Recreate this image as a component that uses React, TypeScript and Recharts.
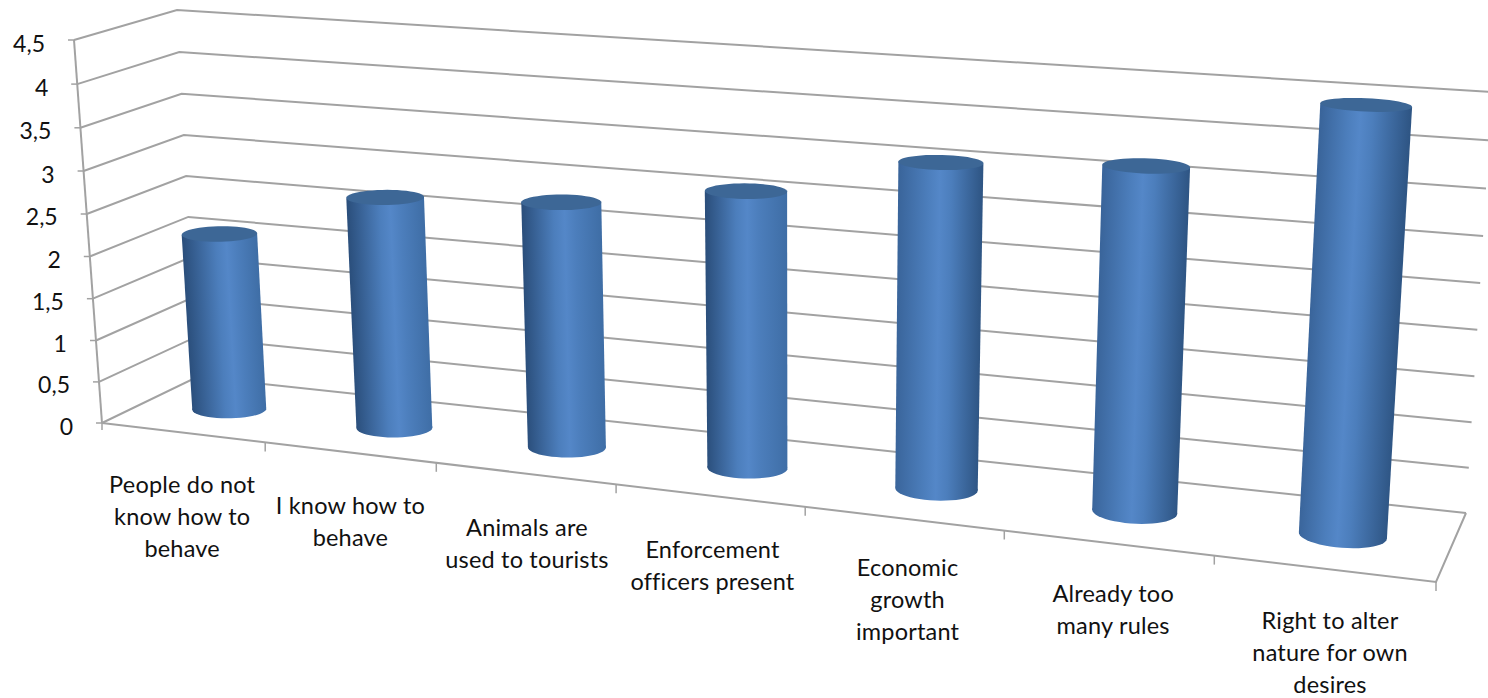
import React from "react";
import { BarChart, Bar, XAxis, YAxis, CartesianGrid } from "recharts";

const categories = [
  "People do not\nknow how to\nbehave",
  "I know how to\nbehave",
  "Animals are\nused to tourists",
  "Enforcement\nofficers present",
  "Economic\ngrowth\nimportant",
  "Already too\nmany rules",
  "Right to alter\nnature for own\ndesires",
];
const values = [2.12, 2.72, 2.83, 3.12, 3.59, 3.71, 4.48];
const valueTicks = [0, 0.5, 1, 1.5, 2, 2.5, 3, 3.5, 4, 4.5];

const data = categories.map((name, i) => ({ name, value: values[i] }));

const WIDTH = 1488;
const HEIGHT = 698;
// the axes each take one pixel, so the plot box starts at 100 / ends 100 from the bottom
const margin = { top: 40, right: 100, bottom: 99, left: 99 };
const plotLeft = 100;
const plotTop = 40;
const plotW = WIDTH - 200;
const plotH = HEIGHT - 140;

const FONT = "Lato, Carlito, sans-serif";
const GRID = "#a2a2a2";
// category labels do not sit at quite the same distance below the floor edge
const labelDrop = [0, 1, 3, 3, -3, -1, 0];

type Pt = [number, number];

// unit square -> quadrilateral (perspective)
function quadMap(a: Pt, b: Pt, c: Pt, d: Pt) {
  const sx = a[0] - b[0] + c[0] - d[0];
  const sy = a[1] - b[1] + c[1] - d[1];
  const dx1 = b[0] - c[0];
  const dx2 = d[0] - c[0];
  const dy1 = b[1] - c[1];
  const dy2 = d[1] - c[1];
  const den = dx1 * dy2 - dx2 * dy1;
  const g = (sx * dy2 - dx2 * sy) / den;
  const h = (dx1 * sy - sx * dy1) / den;
  return (u: number, v: number): Pt => {
    const w = g * u + h * v + 1;
    return [
      ((b[0] - a[0] + g * b[0]) * u + (d[0] - a[0] + h * d[0]) * v + a[0]) / w,
      ((b[1] - a[1] + g * b[1]) * u + (d[1] - a[1] + h * d[1]) * v + a[1]) / w,
    ];
  };
}

// the chart box: front plane and back wall
const frontPlane = quadMap([102, 423], [1436, 582], [1467, 128], [74, 40]);
const backPlane = quadMap([197, 377], [1466, 513], [1492, 92], [177, 10]);

// u along categories, v up the value axis, d from front to back
function project(u: number, v: number, d: number): Pt {
  const f = frontPlane(u, v);
  const b = backPlane(u, v);
  return [f[0] + (b[0] - f[0]) * d, f[1] + (b[1] - f[1]) * d];
}

const toU = (x: number) => (x - plotLeft) / plotW;
const toV = (y: number) => (plotTop + plotH - y) / plotH;
const pathOf = (pts: Pt[]) => "M" + pts.map((p) => `${p[0].toFixed(1)},${p[1].toFixed(1)}`).join("L");

function gridLine(props: any) {
  const v = toV(props.y1);
  const isFloor = v < 0.001;
  const isTop = v > 0.999;
  const stroke = { stroke: GRID, strokeWidth: 2, fill: "none" };
  return (
    <g key={props.key ?? props.index}>
      <path d={pathOf([project(0, v, 0), project(0, v, 1), project(1, v, 1)])} {...stroke} />
      {isFloor && (
        <>
          <path d={pathOf([project(0, 0, 0), project(1, 0, 0), project(1, 0, 1)])} {...stroke} />
          {categories.map((_, i) => {
            const p = project((i + 1) / categories.length, 0, 0);
            return <path key={i} d={pathOf([p, [p[0], p[1] + 9]])} stroke={GRID} strokeWidth={1.5} />;
          })}
          <path d={pathOf([project(0, 0, 0), [project(0, 0, 0)[0], project(0, 0, 0)[1] + 7]])} stroke={GRID} strokeWidth={1.5} />
        </>
      )}
      {isTop && <path d={pathOf([project(0, 1, 0), project(0, 0, 0)])} {...stroke} />}
    </g>
  );
}

function ValueTick(props: any) {
  const p = project(0, toV(props.y), 0);
  return (
    <g>
      <path d={pathOf([[p[0] - 6, p[1]], p])} stroke={GRID} strokeWidth={1.5} />
      <text x={p[0] - 29} y={p[1] + 2.5} textAnchor="end" dominantBaseline="central" fontFamily={FONT} fontSize={23} fill="#111">
        {String(props.payload.value).replace(".", ",")}
      </text>
    </g>
  );
}

function CategoryTick(props: any) {
  const u = toU(props.x);
  const p = project(u, 0, 0);
  const lines = String(props.payload.value).split("\n");
  const drop = labelDrop[props.index] ?? 0;
  return (
    <text textAnchor="middle" fontFamily={FONT} fontSize={23.5} letterSpacing={0.2} fill="#111">
      {lines.map((line, i) => (
        <tspan key={i} x={p[0] - 1 + u * 8} y={p[1] + 60 + drop + i * 32}>
          {line}
        </tspan>
      ))}
    </text>
  );
}

// one cylinder: the rectangle recharts computes is pushed through the projection
function Cylinder(props: any) {
  const { x, y, width, height, index } = props;
  const uc = toU(x + width / 2);
  const ru = width / 2 / plotW;
  const rd = 0.18;
  const top = toV(y);
  const bottom = toV(y + height);
  const ring = (v: number) => {
    const pts: Pt[] = [];
    for (let a = 0; a < 48; a++) {
      const t = (a / 48) * Math.PI * 2;
      pts.push(project(uc + ru * Math.cos(t), v, 0.5 + rd * Math.sin(t)));
    }
    return pts;
  };
  const topRing = ring(top);
  const bottomRing = ring(bottom);
  const tc = project(uc, top, 0.5);
  const bc = project(uc, bottom, 0.5);
  const len = Math.hypot(tc[0] - bc[0], tc[1] - bc[1]);
  const n: Pt = [-(tc[1] - bc[1]) / len, (tc[0] - bc[0]) / len];
  const along = (p: Pt) => (p[0] - bc[0]) * n[0] + (p[1] - bc[1]) * n[1];
  const extreme = (pts: Pt[], sign: number) => pts.reduce((m, p) => (sign * along(p) > sign * along(m) ? p : m));
  const body = [extreme(topRing, -1), extreme(topRing, 1), extreme(bottomRing, 1), extreme(bottomRing, -1)];
  const half = Math.abs(along(extreme(bottomRing, 1)));
  const mid: Pt = [(tc[0] + bc[0]) / 2, (tc[1] + bc[1]) / 2];
  const id = `cyl-${index}`;
  // n points to the left of the axis, so the gradient runs right to left
  const peak = 0.6 - 0.17 * uc;
  return (
    <g>
      <defs>
        <linearGradient
          id={id}
          gradientUnits="userSpaceOnUse"
          x1={mid[0] - n[0] * half}
          y1={mid[1] - n[1] * half}
          x2={mid[0] + n[0] * half}
          y2={mid[1] + n[1] * half}
        >
          <stop offset={0} stopColor={uc < 0.5 ? "#2b4f7c" : "#3a659b"} />
          <stop offset={peak - 0.14} stopColor="#4c7ebc" />
          <stop offset={peak} stopColor="#5487c8" />
          <stop offset={peak + 0.14} stopColor="#4c7ebc" />
          <stop offset={1} stopColor={uc < 0.5 ? "#3f6ea6" : "#2f5685"} />
        </linearGradient>
      </defs>
      <path d={pathOf(bottomRing) + "Z"} fill={`url(#${id})`} />
      <path d={pathOf(body) + "Z"} fill={`url(#${id})`} />
      <path d={pathOf(topRing) + "Z"} fill="#3d6796" />
    </g>
  );
}

export default function App() {
  return (
    <div style={{ position: "absolute", left: 0, top: 0 }}>
      <BarChart width={WIDTH} height={HEIGHT} data={data} margin={margin} barCategoryGap="29.5%">
        <CartesianGrid vertical={false} horizontal={gridLine} />
        <XAxis dataKey="name" height={1} axisLine={false} tickLine={false} interval={0} tick={<CategoryTick />} />
        <YAxis width={1} domain={[0, 4.5]} ticks={valueTicks} axisLine={false} tickLine={false} tick={<ValueTick />} />
        <Bar dataKey="value" isAnimationActive={false} shape={<Cylinder />} />
      </BarChart>
    </div>
  );
}
